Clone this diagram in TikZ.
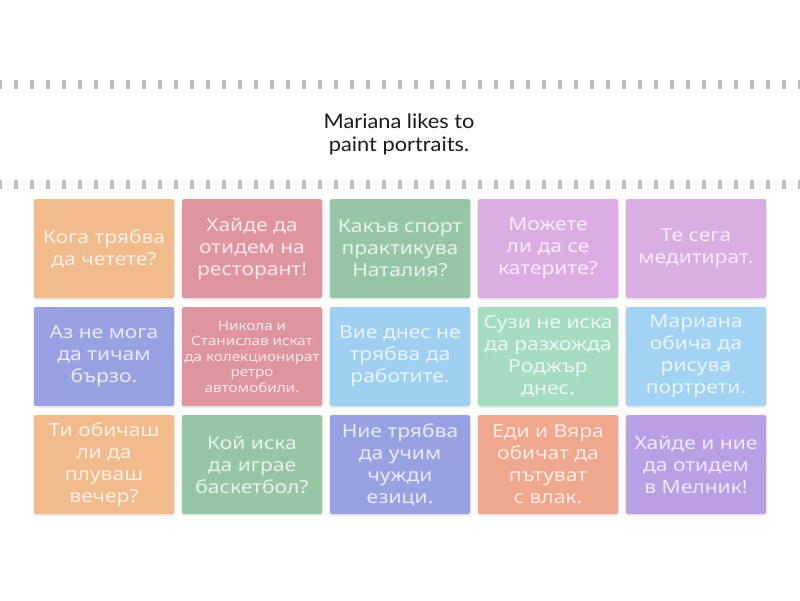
\documentclass[tikz,border=0pt]{standalone}
\usepackage{fontspec}
\setmainfont{Noto Sans}[FakeStretch=1.17]
\newfontfamily\headfont{Lato}[FakeStretch=1.09]
\definecolor{cOrange}{HTML}{F2BB8B}
\definecolor{cRose}{HTML}{DE959F}
\definecolor{cGreen}{HTML}{96C6A6}
\definecolor{cLav}{HTML}{DCADE3}
\definecolor{cLavB}{HTML}{D9AEE0}
\definecolor{cViolet}{HTML}{98A1E2}
\definecolor{cLBlue}{HTML}{9FD0F2}
\definecolor{cMint}{HTML}{A6DDC0}
\definecolor{cSky}{HTML}{A2D3F2}
\definecolor{cSalmon}{HTML}{EFA78D}
\definecolor{cPurple}{HTML}{B99FE3}
\definecolor{tickgray}{HTML}{BDBDBD}
\definecolor{headtext}{HTML}{1A1A1A}
\begin{document}
\begin{tikzpicture}[x=1pt,y=-1pt,
  card/.style={minimum width=140pt,minimum height=99pt,rounded corners=2pt,
    inner sep=2pt,align=center,text=white,text opacity=0.78,
    font=\fontsize{18}{22}\selectfont},
  smallcard/.style={card,font=\fontsize{13}{15.5}\selectfont},
  shadowbox/.style={fill=black,fill opacity=0.07,rounded corners=3pt},
  tickmark/.style={fill=tickgray},
  headline/.style={align=center,text=headtext,font=\headfont\fontsize{20}{23}\selectfont}]
\useasboundingbox (0,0) rectangle (800,600);
\fill[white] (0,0) rectangle (800,600);
% tick rows
\foreach \i in {0,...,50} {
  \fill[tickmark] ({-2+16*\i},80) rectangle ({2+16*\i},89);
  \fill[tickmark] ({-2+16*\i},180) rectangle ({2+16*\i},189);
}
\node[headline] (head) at (399,134) {Mariana likes to\\paint portraits.};
% shadows
\foreach \cx in {104,252,400,548,696} {
  \foreach \cy in {248.5,356.5,464.5} {
    \fill[shadowbox] ({\cx-71},{\cy-49}) rectangle ({\cx+71},{\cy+51.5});
  }
}
% row 1
\node[card,fill=cOrange] (c11) at (104,248.5) {Кога трябва\\да четете?};
\node[card,fill=cRose] (c12) at (252,248.5) {Хайде да\\отидем на\\ресторант!};
\node[card,fill=cGreen] (c13) at (400,248.5) {Какъв спорт\\практикува\\Наталия?};
\node[card,fill=cLav] (c14) at (548,248.5) {Можете\\ли да се\\катерите?};
\node[card,fill=cLavB] (c15) at (696,248.5) {Те сега\\медитират.};
% row 2
\node[card,fill=cViolet] (c21) at (104,356.5) {Аз не мога\\да тичам\\бързо.};
\node[smallcard,fill=cRose] (c22) at (252,356.5) {Никола и\\Станислав искат\\да колекционират\\ретро\\автомобили.};
\node[card,fill=cLBlue] (c23) at (400,356.5) {Вие днес не\\трябва да\\работите.};
\node[card,fill=cMint] (c24) at (548,356.5) {Сузи не иска\\да разхожда\\Роджър\\днес.};
\node[card,fill=cSky] (c25) at (696,356.5) {Мариана\\обича да\\рисува\\портрети.};
% row 3
\node[card,fill=cOrange] (c31) at (104,464.5) {Ти обичаш\\ли да\\плуваш\\вечер?};
\node[card,fill=cGreen] (c32) at (252,464.5) {Кой иска\\да играе\\баскетбол?};
\node[card,fill=cViolet] (c33) at (400,464.5) {Ние трябва\\да учим\\чужди\\езици.};
\node[card,fill=cSalmon] (c34) at (548,464.5) {Еди и Вяра\\обичат да\\пътуват\\с влак.};
\node[card,fill=cPurple] (c35) at (696,464.5) {Хайде и ние\\да отидем\\в Мелник!};
\end{tikzpicture}
\end{document}
